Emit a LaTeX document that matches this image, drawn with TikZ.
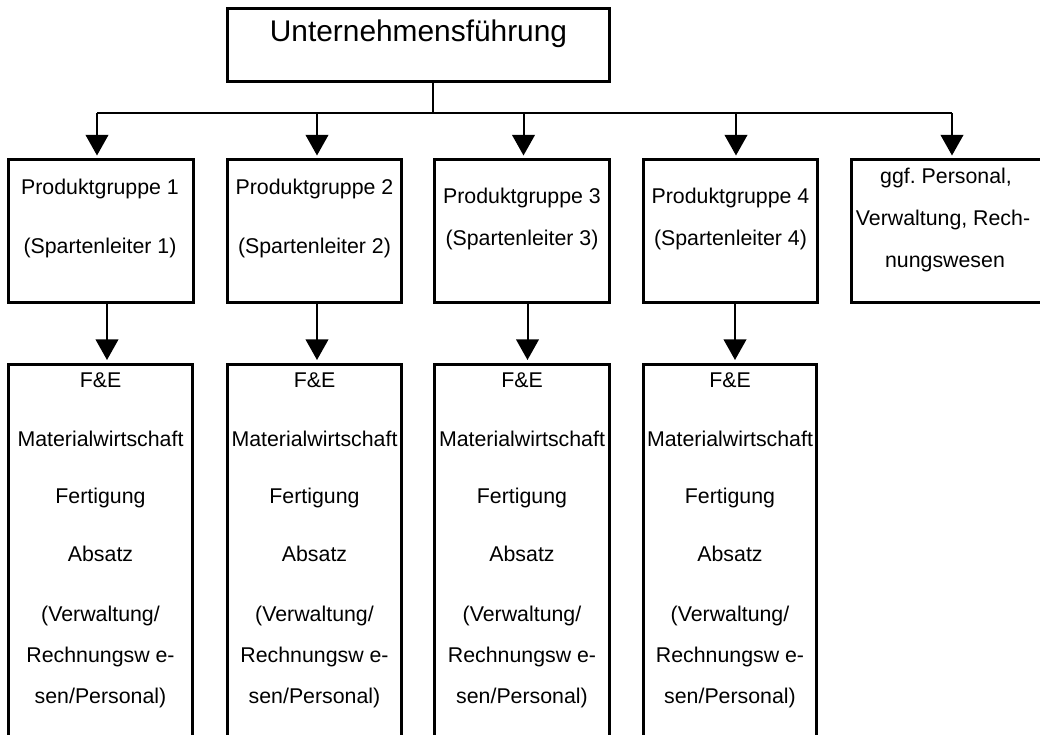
\documentclass[tikz,border=0pt]{standalone}
\usepackage{fontspec}
\setmainfont{Liberation Sans}
\usetikzlibrary{arrows.meta,fit}
\frenchspacing

\tikzset{
  box/.style={draw=black, line width=2.25pt, inner sep=0pt, fill=none},
  conn/.style={draw=black, line width=1.5pt},
  arr/.style={conn, -{Triangle[length=15.5pt,width=17pt]}, shorten >=2.25pt},
  txt/.style={anchor=base, inner sep=0pt, font=\fontsize{16}{19}\selectfont},
  title/.style={anchor=base, inner sep=0pt, font=\fontsize{22.4}{27}\selectfont}
}

\begin{document}
\begin{tikzpicture}[x=0.75pt, y=-0.75pt]
  \useasboundingbox (0,0) rectangle (1040,735);
  \clip (0,0) rectangle (1040,735);

  % top management
  \node[box, fit={(227.5,8.5) (609.5,81.5)}] (top) {};
  \node[title] (topt) at (418.5,42) {Unternehmensführung};

  % divisions
  \node[box, fit={(8.5,160) (193.5,302.5)}]   (p1) {};
  \node[box, fit={(227.5,160) (401.5,302.5)}] (p2) {};
  \node[box, fit={(434.5,160) (609.5,302.5)}] (p3) {};
  \node[box, fit={(643.5,160) (817.5,302.5)}] (p4) {};
  \node[box, fit={(851.5,160) (1046,302.5)}]  (p5) {};

  \node[txt] (p1a) at (100,195) {Produktgruppe 1};
  \node[txt] (p1b) at (100,253) {(Spartenleiter 1)};
  \node[txt] (p2a) at (314.5,195) {Produktgruppe 2};
  \node[txt] (p2b) at (314.5,253) {(Spartenleiter 2)};
  \node[txt] (p3a) at (522,203) {Produktgruppe 3};
  \node[txt] (p3b) at (522,245) {(Spartenleiter 3)};
  \node[txt] (p4a) at (730.5,203) {Produktgruppe 4};
  \node[txt] (p4b) at (730.5,245) {(Spartenleiter 4)};
  \node[txt] (p5a) at (946,183) {ggf. Personal,};
  \node[txt] (p5b) at (943,225) {Verwaltung, Rech-};
  \node[txt] (p5c) at (945,267) {nungswesen};

  % functional units inside each division
  \node[box, fit={(8.5,364.5) (192.5,745)}]   (d1) {};
  \node[box, fit={(227.5,364.5) (401.5,745)}] (d2) {};
  \node[box, fit={(434.5,364.5) (609.5,745)}] (d3) {};
  \node[box, fit={(643.5,364.5) (816.5,745)}] (d4) {};

  \foreach \n/\cx in {1/100.5, 2/314.5, 3/522, 4/730} {
    \node[txt] (d\n a) at (\cx,387) {F\&E};
    \node[txt] (d\n b) at (\cx,446) {Materialwirtschaft};
    \node[txt] (d\n c) at (\cx,503) {Fertigung};
    \node[txt] (d\n d) at (\cx,561) {Absatz};
    \node[txt] (d\n e) at (\cx,621) {(Verwaltung/};
    \node[txt] (d\n f) at (\cx,662) {Rechnungsw e-};
    \node[txt] (d\n g) at (\cx,703) {sen/Personal)};
  }

  % distribution bus below top management
  \coordinate (hub)  at (433,113);
  \coordinate (a1) at (97,113);
  \coordinate (a2) at (317,113);
  \coordinate (a3) at (523.5,113);
  \coordinate (a4) at (736,113);
  \coordinate (a5) at (952,113);

  \draw[conn] (top.south -| hub) -- (hub);
  \draw[conn] (a1) -- (a5);
  \foreach \i in {1,...,5} {
    \draw[arr] (a\i) -- (a\i |- p\i.north);
  }

  % division to functional units
  \coordinate (s1) at (107,0);
  \coordinate (s2) at (317,0);
  \coordinate (s3) at (527.5,0);
  \coordinate (s4) at (735,0);
  \foreach \i in {1,...,4} {
    \draw[arr] (s\i |- p\i.south) -- (s\i |- d\i.north);
  }
\end{tikzpicture}
\end{document}
